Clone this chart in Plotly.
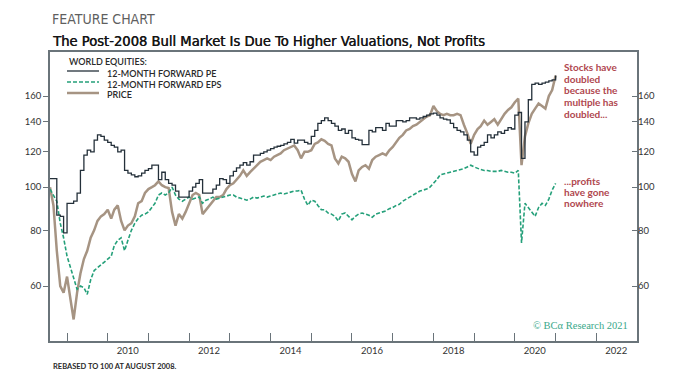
import pandas as pd
import plotly.graph_objects as go

# ---------------- data (monthly, rebased to 100 at Aug 2008) ----------------
months = [d.strftime("%Y-%m-%d") for d in pd.date_range("2008-08-01", periods=150, freq="MS")]

price = [
    100, 91, 72, 60, 58, 63, 56, 50.5, 58, 64, 69, 72, 77, 80, 84, 86, 87,      # 2008-08 .. 2009-12
    89, 85, 89, 91, 84, 80, 82, 83, 86, 92, 93, 97,                               # 2010
    99, 100, 101, 103, 101, 100, 99.6, 88, 82, 87, 85, 88,                        # 2011
    92, 96, 97, 96, 87, 89, 91, 93, 95, 95, 96, 99,                               # 2012
    101, 102, 104, 106, 109, 106, 108, 110, 112, 114, 115, 116,                   # 2013
    115, 117, 118, 119, 121, 122, 123, 124, 121, 116, 120, 120,                   # 2014
    121, 125, 126, 128, 127, 125, 124, 116, 113, 117, 116, 114,                   # 2015
    107, 103, 109, 111, 112, 110, 115, 117, 118, 119, 118, 121,                   # 2016
    123, 126, 129, 131, 134, 135, 137, 138, 140, 142, 144, 145,                   # 2017
    152, 148, 146, 145, 146, 145, 145, 146, 145, 138, 132, 125,                   # 2018
    131, 135, 137, 141, 138, 140, 142, 138, 142, 146, 149, 151,                   # 2019
    155, 158, 112, 130, 139, 146, 150, 154, 152, 150, 160, 165,                   # 2020
    178,                                                                          # 2021-01
]

fwd_eps = [
    99, 96, 93, 83, 77, 70, 66, 63, 59, 60, 59.5, 57.5, 62, 65, 66, 67, 68,
    69, 70, 74, 76, 77, 72, 76, 80, 83, 85, 86.5, 87,
    88, 90, 92, 96, 97, 96, 97, 100, 96, 94, 93, 94,
    95, 94, 94.5, 95, 92, 93.5, 94, 95, 94, 94.5, 95, 95.5,
    96, 96, 95, 94.5, 94, 93.5, 94, 95, 94.5, 95, 95.5, 95,
    95.5, 96, 96.5, 97, 96.5, 97, 97.5, 98, 98, 98.5, 94, 91,
    93.5, 93, 91, 89, 89, 87.5, 87, 86, 84, 87, 87.5, 86,
    84.5, 86, 87, 87.5, 87, 86.5, 85.6, 87, 87.5, 88, 88.5, 89.5,
    90, 91, 91.5, 93, 94, 95, 96, 97, 98, 98.5, 99, 100,
    102, 104, 106.5, 107, 107.5, 108, 108.5, 109, 109.2, 110, 111, 112,
    111, 110, 109.5, 109, 109, 108.5, 108.5, 108.5, 109, 108.5, 108, 108,
    107.5, 109, 75, 92, 90, 88, 86, 90, 92, 91, 94, 98.5,
    102,
]

fwd_pe = [
    104.5, 104.5, 86.5, 86, 79, 92, 92, 93, 97, 109, 118, 121, 120, 127.5, 131, 130, 127.5,
    126, 124, 123, 120, 121, 109, 107.5, 106.5, 105.5, 106, 107.5, 109,
    110, 112, 112, 104, 108, 104, 102, 101, 98, 95, 95, 95,
    98, 100, 102, 104, 97, 97, 97, 99, 101, 104.5, 104, 102,
    106, 108.5, 110.5, 112, 113.5, 112, 114, 118, 118, 119, 120, 121,
    122, 123, 123.5, 124, 125, 126, 128, 125.5, 127.5, 127.5, 126, 125,
    130, 134, 139, 141, 143, 141, 139, 137, 134, 135, 132, 134,
    129, 128, 127.5, 124.5, 124.5, 134, 133, 136, 136, 134, 139, 137,
    137, 141, 141, 140, 141, 143, 143, 142, 143, 144, 145, 146,
    146.5, 145, 143, 142, 141.5, 139, 136, 134, 133, 131, 127.5, 120,
    118, 123, 124, 126, 131, 129, 131, 133, 132, 134, 136, 135,
    145, 147, 116, 140, 157, 170, 171, 170, 171, 172, 173, 174,
    178,
]

y_ticks = [60, 80, 100, 120, 140, 160]
tick_years = list(range(2009, 2023))
label_years = [2010, 2012, 2014, 2016, 2018, 2020, 2022]

legend_title = "WORLD EQUITIES:"
legend_names = ["12-MONTH FORWARD PE", "12-MONTH FORWARD EPS", "PRICE"]

# ---------------- styling ----------------
C_PE = "#24303a"
C_EPS = "#25a07a"
C_PRICE = "#a69483"
C_FRAME = "#6a747a"
C_TXT = "#333333"
C_RED = "#b0474f"
TICK_FONT = dict(family="Lato, 'DejaVu Sans', sans-serif", size=9.5, color=C_TXT)

W, H = 679, 377
L, R, T, B = 50, 42, 52, 36
PW, PH = W - L - R, H - T - B


def px(xp):
    return (xp - L) / PW


def py(yp):
    return (H - B - yp) / PH


fig = go.Figure()
fig.add_trace(go.Scatter(x=months, y=price, mode="lines", name=legend_names[2],
                         line=dict(color=C_PRICE, width=2.5), yaxis="y"))
fig.add_trace(go.Scatter(x=months, y=fwd_eps, mode="lines", name=legend_names[1],
                         line=dict(color=C_EPS, width=1.6, dash="4px,2px"), yaxis="y"))
fig.add_trace(go.Scatter(x=months, y=fwd_pe, mode="lines", name=legend_names[0],
                         line=dict(color=C_PE, width=1.3, shape="hv"), yaxis="y2"))

y_range = [1.655, 2.303]

fig.update_layout(
    width=W, height=H,
    margin=dict(l=L, r=R, t=T, b=B),
    paper_bgcolor="white", plot_bgcolor="white",
    showlegend=False,
    xaxis=dict(
        type="date", range=["2008-08-01", "2023-01-01"],
        showline=True, linecolor=C_FRAME, linewidth=1.5, mirror=True,
        showgrid=False, zeroline=False,
        tickmode="array",
        tickvals=[f"{y}-01-01" for y in tick_years],
        ticktext=[str(y) if y in label_years else "" for y in tick_years],
        ticks="inside", ticklen=8, tickwidth=1.2, tickcolor=C_FRAME,
        ticklabelshift=20, tickfont=TICK_FONT,
    ),
    yaxis=dict(
        type="log", range=y_range,
        showline=True, linecolor=C_FRAME, linewidth=1.5, mirror=True,
        showgrid=False, zeroline=False,
        tickmode="array", tickvals=y_ticks, ticktext=[str(v) for v in y_ticks],
        ticks="outside", ticklen=5, tickwidth=1.2, tickcolor=C_FRAME,
        tickfont=TICK_FONT,
    ),
    yaxis2=dict(
        type="log", range=y_range, overlaying="y", side="right",
        showline=False, showgrid=False, zeroline=False,
        tickmode="array", tickvals=y_ticks, ticktext=[str(v) for v in y_ticks],
        ticks="inside", ticklen=5, tickwidth=1.2, tickcolor=C_FRAME,
        tickfont=TICK_FONT,
    ),
)

ann = []
# Titles
ann.append(dict(text="FEATURE CHART", x=px(50), y=py(19), xref="paper", yref="paper",
                xanchor="left", yanchor="middle", showarrow=False,
                font=dict(family="'Liberation Sans Narrow', 'DejaVu Sans Condensed', sans-serif",
                          size=14, color="#5f5f5f")))
ann.append(dict(text="The Post-2008 Bull Market Is Due To Higher Valuations, Not Profits",
                x=px(50), y=py(40), xref="paper", yref="paper",
                xanchor="left", yanchor="middle", showarrow=False,
                font=dict(family="'Liberation Sans Narrow', 'DejaVu Sans Condensed', sans-serif",
                          size=14.6, color="#151515", shadow="0.45px 0px 0px #151515")))
# Legend
LEG_FONT = dict(family="Lato, sans-serif", size=9, color="#2a2a2a", weight=600)
ann.append(dict(text=legend_title, x=px(67), y=py(62), xref="paper", yref="paper",
                xanchor="left", yanchor="middle", showarrow=False, font=LEG_FONT))
rows = [73, 84, 95]
styles = [dict(color=C_PE, width=1.3), dict(color=C_EPS, width=1.6, dash="4px,2px"),
          dict(color=C_PRICE, width=2.5)]
shapes = []
for name, yr, st in zip(legend_names, rows, styles):
    ann.append(dict(text=name, x=px(105), y=py(yr), xref="paper", yref="paper",
                    xanchor="left", yanchor="middle", showarrow=False, font=LEG_FONT))
    shapes.append(dict(type="line", xref="paper", yref="paper",
                       x0=px(67), x1=px(99), y0=py(yr - 2), y1=py(yr - 2), line=st))
# Red comments
RED_FONT = dict(family="Lato, sans-serif", size=10, color=C_RED, weight=700)
for i, t in enumerate(["Stocks have", "doubled", "because the", "multiple has", "doubled..."]):
    ann.append(dict(text=t, x=px(562), y=py(67 + i * 11.7), xref="paper", yref="paper",
                    xanchor="left", yanchor="middle", showarrow=False, font=RED_FONT))
for i, t in enumerate(["...profits", "have gone", "nowhere"]):
    ann.append(dict(text=t, x=px(562), y=py(181 + i * 11.2), xref="paper", yref="paper",
                    xanchor="left", yanchor="middle", showarrow=False, font=RED_FONT))
# Copyright & footnote
ann.append(dict(text="© BCα Research 2021", x=px(630), y=py(325), xref="paper", yref="paper",
                xanchor="right", yanchor="middle", showarrow=False,
                font=dict(family="'Liberation Serif', serif", size=10.5, color="#3aa88a")))
ann.append(dict(text="REBASED TO 100 AT AUGUST 2008.", x=px(51), y=py(366), xref="paper", yref="paper",
                xanchor="left", yanchor="middle", showarrow=False,
                font=dict(family="Lato, sans-serif", size=7.5, color="#2a2a2a", weight=700)))

fig.update_layout(annotations=ann, shapes=shapes)
# remove the browser's default 8px body margin so the figure sits at the page origin
fig.write_html("out.html", config={"displayModeBar": False},
               post_script="document.body.style.margin='0';")
